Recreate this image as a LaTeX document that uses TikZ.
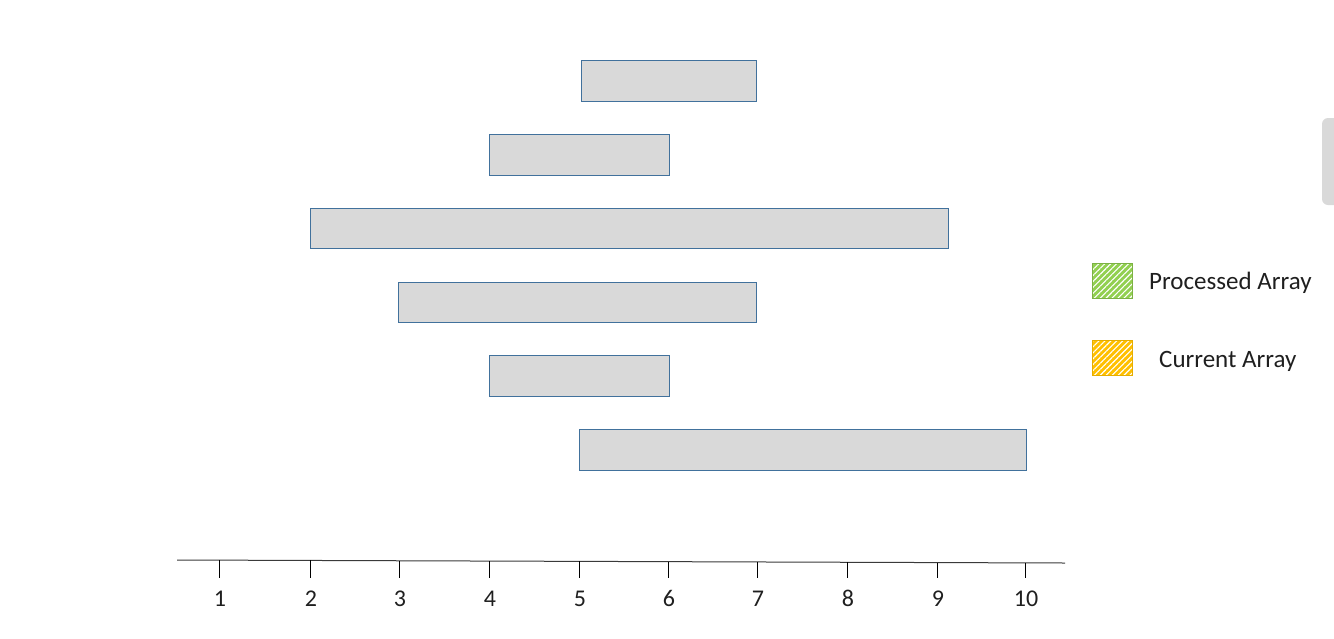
\documentclass[tikz,border=0pt]{standalone}
\usepackage{fontspec}
\setmainfont{Carlito}
\usetikzlibrary{patterns.meta}
\definecolor{barfill}{HTML}{D9D9D9}
\definecolor{barline}{HTML}{41719C}
\definecolor{pgreen}{HTML}{92D050}
\definecolor{corange}{HTML}{FFC000}
\definecolor{axisgray}{HTML}{3A3A3A}
\tikzset{
  bar/.style={draw=barline, fill=barfill, line width=0.9pt},
  tickmark/.style={draw=black, line width=0.9pt},
  ticklabel/.style={font=\fontsize{24}{28}\selectfont, text=black!88, inner sep=0pt, anchor=base},
  legtext/.style={font=\fontsize{25}{29}\selectfont, text=black!88, inner sep=0pt, anchor=base west},
  hatch/.style={pattern={Lines[angle=45,distance=4.2pt,line width=1.1pt]}, pattern color=white},
}
\begin{document}
\begin{tikzpicture}[x=1pt,y=-1pt]
\useasboundingbox (0,0) rectangle (1334,638);
% scroll-like gray tab at right edge
\fill[barfill, rounded corners=6pt] (1322,118) rectangle (1345,205);
% bars
\draw[bar] (581,60) rectangle (756,101);
\draw[bar] (489,134) rectangle (669,175);
\draw[bar] (310,208) rectangle (948,248);
\draw[bar] (398,282) rectangle (756,322);
\draw[bar] (489,355) rectangle (669,396);
\draw[bar] (579,429) rectangle (1026,470);
% axis
\coordinate (axL) at (177,560);
\coordinate (axR) at (1065,563);
\draw[axisgray, line width=1pt] (axL) -- (axR);
\foreach \x/\n [count=\i] in {219/1,310/2,399/3,489/4,579/5,668/6,757/7,847/8,937/9,1025/10}{
  \pgfmathsetmacro{\yy}{560+3*(\x-177)/888}
  \draw[tickmark] (\x,\yy) -- (\x,578);
  \node[ticklabel] (t\i) at (\x+1,606) {\n};
}
% legend
\fill[pgreen] (1092,263) rectangle (1132,298);
\fill[hatch] (1092,263) rectangle (1132,298);
\draw[pgreen!85!black, line width=0.6pt] (1092,263) rectangle (1132,298);
\fill[corange] (1092,340) rectangle (1132,375);
\fill[hatch] (1092,340) rectangle (1132,375);
\draw[corange!90!black, line width=0.6pt] (1092,340) rectangle (1132,375);
\node[legtext] (lp) at (1149,289) {Processed Array};
\node[legtext] (lc) at (1159,367) {Current Array};
\end{tikzpicture}
\end{document}
